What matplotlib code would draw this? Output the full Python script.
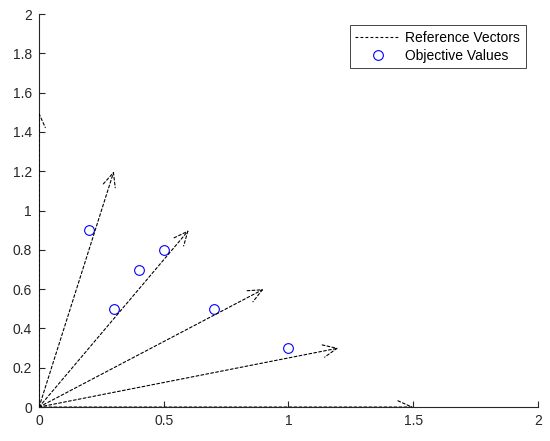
import numpy as np
import matplotlib.pyplot as plt

plt.rcParams['font.family'] = ['Liberation Sans', 'DejaVu Sans']

# reference vector tips (all start at the origin)
vecU = [1.5, 1.2, 0.9, 0.6, 0.3, 0.0]
vecV = [0.0, 0.3, 0.6, 0.9, 1.2, 1.5]

# objective values
objX = [0.2, 0.3, 0.4, 0.5, 0.7, 1.0]
objY = [0.9, 0.5, 0.7, 0.8, 0.5, 0.3]

axisColor = '#262626'

fig = plt.figure(figsize=(5.5, 4.41), dpi=100)
ax = fig.add_axes([0.071, 0.077, 0.907, 0.891])

for u, v in zip(vecU, vecV):
    ann = ax.annotate('', xy=(u, v), xytext=(0, 0),
                      arrowprops=dict(arrowstyle='->,head_length=1.0,head_width=0.45',
                                      linestyle=(0, (2.5, 2.0)), color='black', lw=0.8,
                                      shrinkA=0, shrinkB=0))
    ann.arrow_patch.set_clip_on(True)
    ann.arrow_patch.set_clip_box(ax.bbox)

# legend proxy for the dashed vectors
ax.plot([], [], linestyle=(0, (2.5, 2.0)), color='black', lw=0.8, label='Reference Vectors')
ax.plot(objX, objY, 'o', markerfacecolor='none', markeredgecolor='blue',
        markersize=7, markeredgewidth=0.8, linestyle='none', label='Objective Values')

ax.set_xlim(0, 2)
ax.set_ylim(0, 2)
ax.set_xticks(np.arange(0, 2.01, 0.5))
ax.set_xticklabels(['0', '0.5', '1', '1.5', '2'])
ax.set_yticks(np.arange(0, 2.01, 0.2))
ax.set_yticklabels(['0', '0.2', '0.4', '0.6', '0.8', '1', '1.2', '1.4', '1.6', '1.8', '2'])

for side in ['top', 'right']:
    ax.spines[side].set_visible(False)
for side in ['left', 'bottom']:
    ax.spines[side].set_color(axisColor)
    ax.spines[side].set_linewidth(0.8)
ax.tick_params(direction='in', length=4, width=0.8, colors=axisColor,
               labelsize=10, labelcolor=axisColor, pad=5)

leg = ax.legend(loc='upper right', bbox_to_anchor=(0.976, 0.972), borderaxespad=0,
                fontsize=10, fancybox=False, edgecolor=axisColor, framealpha=1,
                handlelength=3.2, handletextpad=0.4, borderpad=0.4, labelspacing=0.3)
leg.get_frame().set_linewidth(0.6)

fig.savefig('out.png', dpi=100)
